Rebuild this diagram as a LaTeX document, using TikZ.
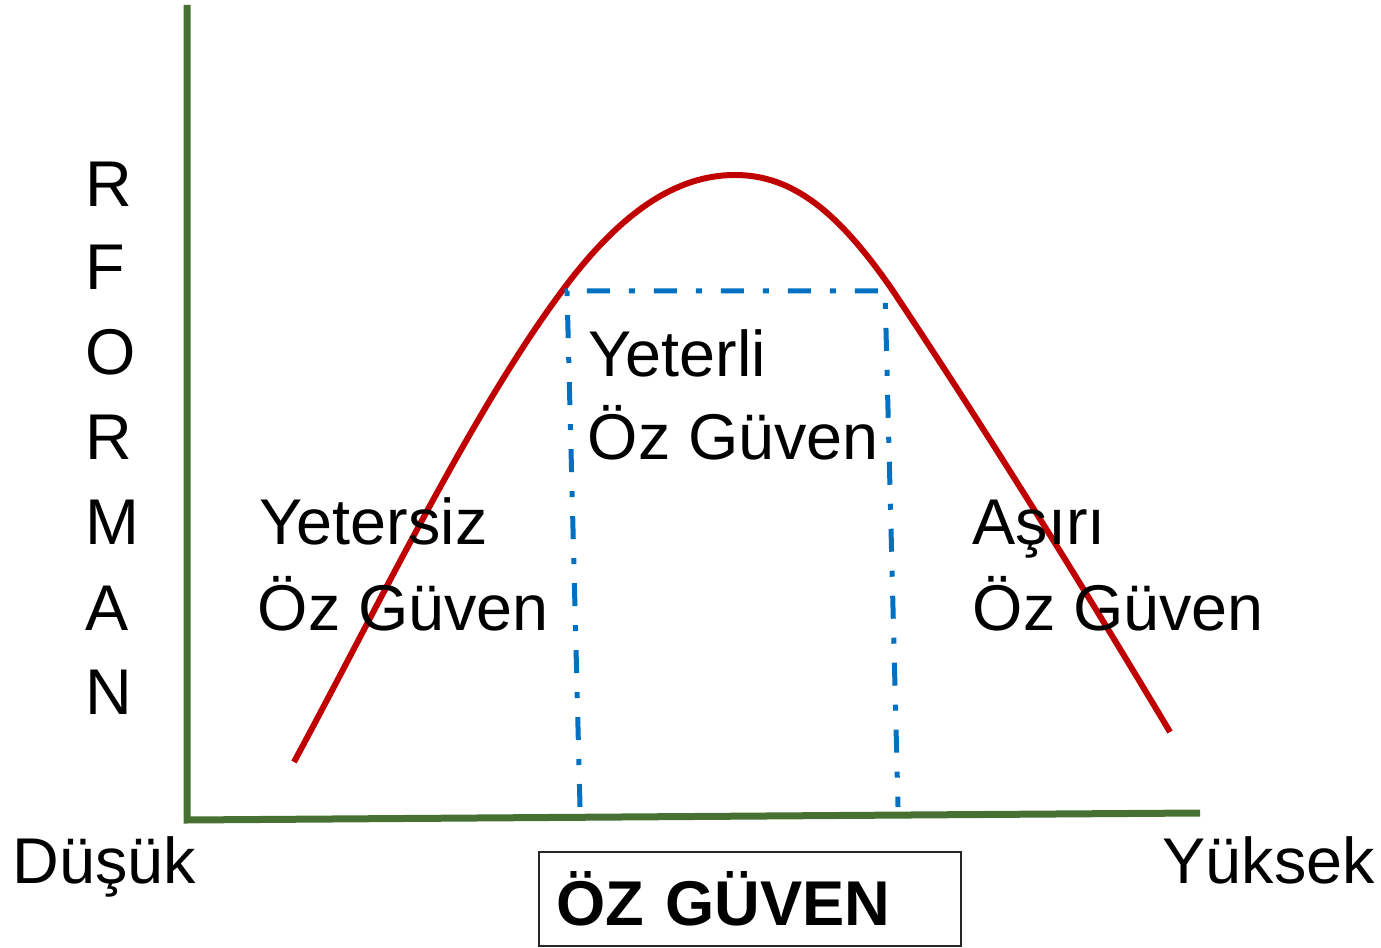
\documentclass[tikz,border=0pt]{standalone}
\usepackage{fontspec}
\setmainfont{Liberation Sans}
\usetikzlibrary{positioning}

\definecolor{axisgreen}{RGB}{70,113,50}
\definecolor{curvered}{RGB}{192,0,0}
\definecolor{zoneblue}{RGB}{0,112,192}

\begin{document}
\begin{tikzpicture}[
    lbl/.style={inner sep=0pt, anchor=base west,
                font=\fontsize{18.4pt}{24pt}\selectfont},
    axis/.style={draw=axisgreen, line width=0.07cm, line join=miter},
    curve/.style={draw=curvered, line width=0.06cm},
    zone/.style={draw=zoneblue, line width=0.05cm,
                 dash pattern=on 0.23cm off 0.19cm on 0.06cm off 0.19cm},
    titlebox/.style={draw=black!85, line width=0.6pt, anchor=north west,
                     minimum height=0.94cm, text width=3.87cm,
                     inner xsep=0.175cm, inner ysep=0pt, align=left,
                     font=\fontsize{18pt}{24pt}\selectfont\bfseries}
  ]
  \useasboundingbox (0,0) rectangle (13.81,9.47);

  % Axes
  \coordinate (ytop) at (1.87,9.42);
  \coordinate (origin) at (1.87,1.27);
  \coordinate (xend) at (12.00,1.34);
  \draw[axis] (ytop) -- (origin) -- (xend);

  % Performance curve
  \coordinate (cstart) at (2.94,1.85);
  \coordinate (cleft) at (5.62,6.56);
  \coordinate (cpeak) at (7.35,7.72);
  \coordinate (cright) at (8.93,6.56);
  \coordinate (cend) at (11.70,2.15);
  \draw[curve] (cstart) .. controls (3.84,3.52) and (4.72,5.35) .. (cleft)
    .. controls (6.22,7.37) and (6.78,7.72) .. (cpeak)
    .. controls (7.92,7.72) and (8.38,7.36) .. (cright)
    .. controls (9.85,5.18) and (10.78,3.69) .. (cend);

  % Adequate zone
  \coordinate (zbl) at (5.80,1.40);
  \coordinate (ztl) at (5.67,6.56);
  \coordinate (ztr) at (8.85,6.56);
  \coordinate (zbr) at (8.98,1.40);
  \draw[zone] (zbl) -- (ztl) -- (ztr) -- (zbr);

  % Vertical axis title
  \node[lbl] (p1) at (0.85,7.40) {R};
  \node[lbl] (p2) at (0.85,6.57) {F};
  \node[lbl] (p3) at (0.85,5.72) {O};
  \node[lbl] (p4) at (0.85,4.87) {R};
  \node[lbl] (p5) at (0.85,4.02) {M};
  \node[lbl] (p6) at (0.85,3.17) {A};
  \node[lbl] (p7) at (0.85,2.33) {N};

  % Zone labels
  \node[lbl] (low1) at (2.59,4.02) {Yetersiz};
  \node[lbl] (low2) at (2.57,3.17) {Öz Güven};
  \node[lbl] (mid1) at (5.88,5.70) {Yeterli};
  \node[lbl] (mid2) at (5.87,4.87) {Öz Güven};
  \node[lbl] (high1) at (9.72,4.02) {Aşırı};
  \node[lbl] (high2) at (9.72,3.17) {Öz Güven};

  % Horizontal axis
  \node[lbl] (dusuk) at (0.12,0.64) {Düşük};
  \node[lbl] (yuksek) at (11.62,0.64) {Yüksek};
  \node[titlebox] (ozguven) at (5.38,0.96) {ÖZ GÜVEN};
\end{tikzpicture}
\end{document}
